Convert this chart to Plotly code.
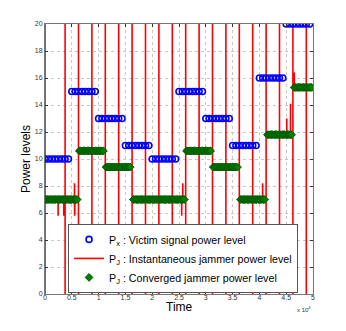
import numpy as np
import plotly.graph_objects as go

# time axis is in samples, shown as x 10^4
victim_start = [0, 5000, 10000, 15000, 20000, 25000, 30000, 35000, 40000, 45000]
victim_level = [10, 15, 13, 11, 10, 15, 13, 11, 16, 20]
victim_step = 625  # one marker every 625 samples

conv_start = [0, 6400, 11400, 16500, 26400, 31400, 36500, 41500, 46500]
conv_end = [6000, 10900, 16000, 26000, 30900, 35900, 41100, 46000, 49900]
conv_level = [7, 10.6, 9.4, 7, 10.6, 9.4, 7, 11.8, 15.3]
conv_step = 250

# full scale sweeps of the instantaneous jammer and level right after each one
pulse_t = [0, 3750, 6250, 8750, 11250, 13750, 16250, 18750, 21250, 23750,
           26250, 28750, 31250, 33750, 36250, 38750, 41250, 43750, 46250, 48750]
pulse_level = [7, 7, 10.6, 10.6, 9.4, 9.4, 7, 7, 7, 7,
               10.6, 10.6, 9.4, 9.4, 7, 7, 11.8, 11.8, 15.3, 15.3]
# short excursions
spike_t = [2450, 3500, 5500, 5530, 5560, 5590, 25500, 25700, 40600, 45100, 45800, 46500]
spike_p = [5.8, 5.8, 8.2, 5.8, 8.2, 5.8, 5.8, 8.2, 8.2, 13.0, 14.1, 16.4]
t_end = 50000


def victim_points():
    xs, ys = [], []
    for s, lv in zip(victim_start, victim_level):
        t = np.arange(s, s + 5000, victim_step)
        xs.extend(t)
        ys.extend([lv] * len(t))
    return xs, ys


def conv_points():
    xs, ys = [], []
    for s, e, lv in zip(conv_start, conv_end, conv_level):
        t = np.arange(s, e + 1, conv_step)
        xs.extend(t)
        ys.extend([lv] * len(t))
    return xs, ys


def jammer_points():
    events = [(t, 'p', lv) for t, lv in zip(pulse_t, pulse_level)]
    events += [(t, 's', p) for t, p in zip(spike_t, spike_p)]
    events.sort(key=lambda e: e[0])
    xs, ys = [], []
    cur = 0
    for t, kind, v in events:
        if kind == 'p':
            xs += [t, t, t, t]
            ys += [cur, 0, 20, v]
            cur = v
        else:
            xs += [t, t, t + 20]
            ys += [cur, v, cur]
    xs.append(t_end)
    ys.append(cur)
    return xs, ys


vx, vy = victim_points()
cx, cy = conv_points()
jx, jy = jammer_points()

fig = go.Figure()
fig.add_trace(go.Scatter(x=jx, y=jy, mode='lines', line=dict(color='#ff0000', width=1.6),
                         name='P<sub>J</sub> : Instantaneous jammer power level', legendrank=2))
fig.add_trace(go.Scatter(x=vx, y=vy, mode='markers',
                         marker=dict(symbol='circle-open', size=6, color='#0000ff', line=dict(width=1.6)),
                         name='P<sub>x</sub> : Victim signal power level', legendrank=1))
fig.add_trace(go.Scatter(x=cx, y=cy, mode='markers',
                         marker=dict(symbol='diamond', size=6, color='#008000', line=dict(width=1, color='#005a00')),
                         name='P<sub>J</sub> : Converged jammer power level', legendrank=3))

xt = [0, 5000, 10000, 15000, 20000, 25000, 30000, 35000, 40000, 45000, 50000]
xl = ['0', '0.5', '1', '1.5', '2', '2.5', '3', '3.5', '4', '4.5', '5']

axis_style = dict(showline=True, linecolor='#777', linewidth=1, mirror='ticks',
                  ticks='inside', ticklen=3, tickcolor='#333',
                  showgrid=True, gridcolor='#c8c8c8', griddash='dot', gridwidth=1,
                  zeroline=False, tickfont=dict(size=7, color='#333'))

fig.update_xaxes(range=[0, 50000], tickvals=xt, ticktext=xl, ticklabelstandoff=-3, **axis_style)
fig.update_yaxes(range=[0, 20], dtick=2,
                 title=dict(text='Power levels', font=dict(size=12, color='black'), standoff=1), **axis_style)

fig.add_annotation(text='Time', xref='paper', yref='paper', x=0.5, y=-0.048,
                   xanchor='center', yanchor='middle', showarrow=False, font=dict(size=12, color='black'))
fig.add_annotation(text='x 10<sup>4</sup>', xref='paper', yref='paper', x=1.0, y=-0.055,
                   xanchor='right', yanchor='middle', showarrow=False, font=dict(size=6, color='#333'))

# page body adds an 8px offset, so the figure is a bit smaller than the window
fig.update_layout(
    width=338, height=323,
    margin=dict(l=37, r=33, t=16, b=37),
    paper_bgcolor='white', plot_bgcolor='white',
    font=dict(family='Liberation Sans, Arial, sans-serif'),
    showlegend=True,
    legend=dict(x=0.086, y=0.004, xanchor='left', yanchor='bottom',
                bgcolor='white', bordercolor='#555', borderwidth=1,
                font=dict(size=10.7, color='black')),
)

fig.write_html("out.html")
